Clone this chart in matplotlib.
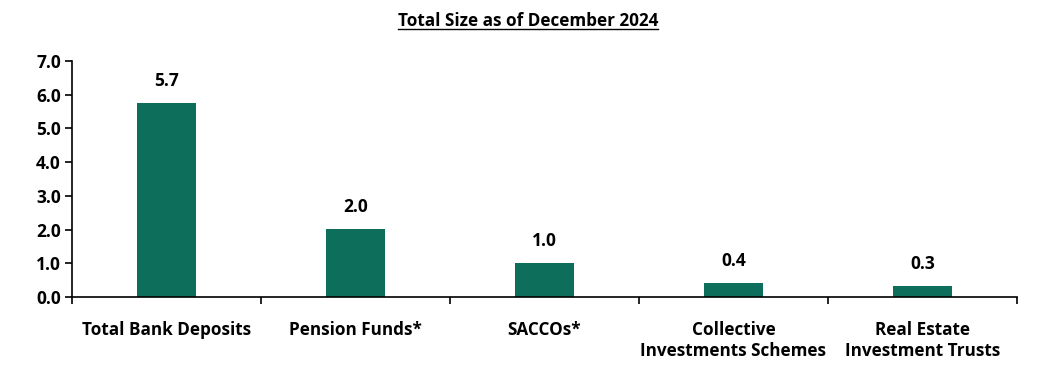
import matplotlib.pyplot as plt
import numpy as np
from matplotlib.lines import Line2D

categories = ['Total Bank Deposits', 'Pension Funds*', 'SACCOs*',
              'Collective\nInvestments Schemes', 'Real Estate\nInvestment Trusts']
values = [5.75, 2.02, 1.01, 0.42, 0.32]
labels = ['5.7', '2.0', '1.0', '0.4', '0.3']

plt.rcParams['font.family'] = ['Open Sans', 'DejaVu Sans']
plt.rcParams['font.weight'] = 'bold'

fig = plt.figure(figsize=(10.44, 3.86), dpi=100)
ax = fig.add_axes([0.069, 0.2306, 0.905, 0.6114])

x = np.arange(len(categories))
bars = ax.bar(x, values, width=0.31, color='#0E6E5C')
for xi, v, lab in zip(x, values, labels):
    ax.text(xi, v + 0.38, lab, ha='center', va='bottom', fontsize=12.5, fontweight='bold')

ax.set_xlim(-0.5, 4.5)
ax.set_ylim(0, 7)
ax.set_yticks(np.arange(0, 7.1, 1.0))
ax.set_yticklabels(['%.1f' % t for t in np.arange(0, 7.1, 1.0)], fontsize=12.5, fontweight='bold')
ax.set_xticks(x)
ax.set_xticklabels(categories, fontsize=12.3, fontweight='bold', linespacing=1.25)
ax.set_xticks(np.arange(-0.5, 4.6, 1.0), minor=True)
ax.tick_params(axis='x', which='major', length=0, pad=17)
ax.tick_params(axis='x', which='minor', length=5, width=1.2, direction='out')
ax.tick_params(axis='y', length=5, width=1.2, direction='out', pad=3)
for s in ['top', 'right']:
    ax.spines[s].set_visible(False)
ax.spines['left'].set_linewidth(1.2)
ax.spines['bottom'].set_linewidth(1.2)

t = fig.text(0.506, 0.945, 'Total Size as of December 2024', ha='center', va='center',
             fontsize=12.3, fontweight='bold')
fig.canvas.draw()
bb = t.get_window_extent().transformed(fig.transFigure.inverted())
fig.add_artist(Line2D([bb.x0, bb.x1], [bb.y0 + 0.002, bb.y0 + 0.002], color='black', lw=1.0,
                      transform=fig.transFigure))

fig.savefig('out.png', dpi=100)
